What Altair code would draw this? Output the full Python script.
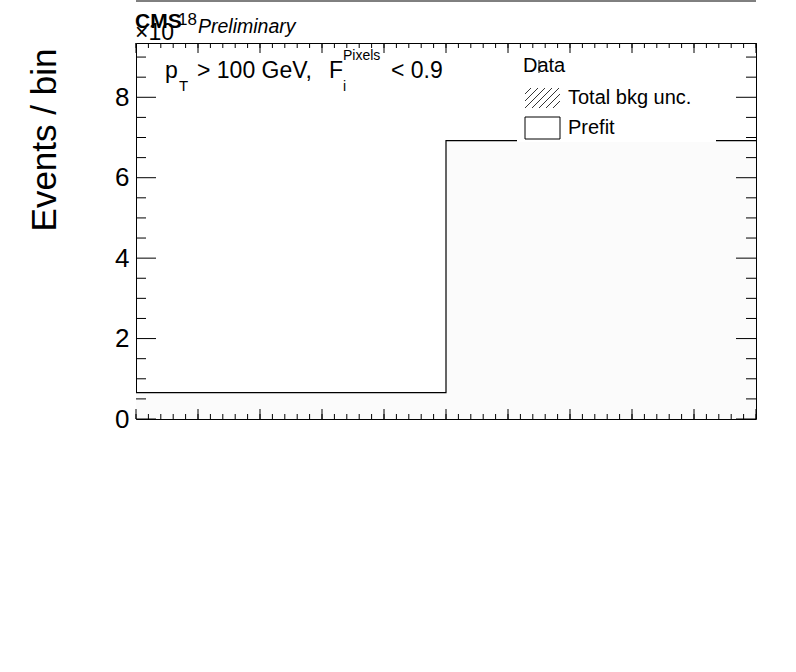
import altair as alt
import pandas as pd

# ---- data ----
bin_lo = [0, 5]
bin_hi = [5, 10]
prefit = [0.654, 6.92]          # x 10^18 events / bin

y_major = [0, 2, 4, 6, 8]
y_minor = [0.5, 1, 1.5, 2.5, 3, 3.5, 4.5, 5, 5.5, 6.5, 7, 7.5, 8.5, 9]
x_major = [0, 1, 2, 3, 4, 5, 6, 7, 8, 9, 10]
x_minor = [i / 5 for i in range(51)]

legend_labels = ["Data", "Total bkg unc.", "Prefit"]

FONT = "Liberation Sans"
W, H = 620, 376
xs = alt.Scale(domain=[0, 10], nice=False, zero=False)
ys = alt.Scale(domain=[0, 9.35], nice=False, zero=False)
yaxis = alt.Axis(values=y_major, title=None, domain=False, ticks=False, tickSize=0, grid=False,
                 labelFont=FONT, labelFontSize=26, labelColor="black", labelPadding=7,
                 labelExpr="datum.value")
one = pd.DataFrame({"a": [0]})

hist_df = pd.DataFrame({"lo": bin_lo, "hi": bin_hi, "v": prefit})
step_df = pd.DataFrame({"x": bin_lo + [bin_hi[-1]], "y": prefit + [prefit[-1]]})

fill = alt.Chart(hist_df).mark_rect(fill="#fbfbfb").encode(
    x=alt.X("lo:Q", scale=xs, axis=None),
    x2="hi:Q",
    y=alt.Y("v:Q", scale=ys, axis=yaxis),
    y2=alt.value(H),
)

line = alt.Chart(step_df).mark_line(interpolate="step-after", color="black", strokeWidth=1.2).encode(
    x=alt.X("x:Q", scale=xs, axis=None),
    y=alt.Y("y:Q", scale=ys, axis=yaxis),
)


def rect(x1, x2, y1, y2, **kw):
    return alt.Chart(one).mark_rect(**kw).encode(
        x=alt.value(x1), x2=alt.value(x2), y=alt.value(y1), y2=alt.value(y2))


def seg(x1, y1, x2, y2, w=1.0):
    return alt.Chart(one).mark_rule(color="black", strokeWidth=w).encode(
        x=alt.value(x1), x2=alt.value(x2), y=alt.value(y1), y2=alt.value(y2))


def txt(s, x, y, size, **kw):
    return alt.Chart(one).mark_text(align="left", baseline="alphabetic", font=FONT,
                                    fontSize=size, color="black", **kw).encode(
        x=alt.value(x), y=alt.value(y), text=alt.value(s))


def xticks(vals, length):
    df = pd.DataFrame({"t": vals})
    b = alt.Chart(df).mark_rule(color="black", strokeWidth=1).encode(
        x=alt.X("t:Q", scale=xs, axis=None), y=alt.value(H), y2=alt.value(H - length))
    t = alt.Chart(df).mark_rule(color="black", strokeWidth=1).encode(
        x=alt.X("t:Q", scale=xs, axis=None), y=alt.value(0), y2=alt.value(length))
    return [b, t]


def yticks(vals, length):
    df = pd.DataFrame({"t": vals})
    l = alt.Chart(df).mark_rule(color="black", strokeWidth=1).encode(
        y=alt.Y("t:Q", scale=ys, axis=yaxis), x=alt.value(0), x2=alt.value(length))
    r = alt.Chart(df).mark_rule(color="black", strokeWidth=1).encode(
        y=alt.Y("t:Q", scale=ys, axis=yaxis), x=alt.value(W), x2=alt.value(W - length))
    return [l, r]


layers = [fill, line]

# legend background
layers.append(rect(381, 580, 11, 99, fill="white"))

layers += xticks(x_minor, 5) + xticks(x_major, 10)
layers += yticks(y_minor, 10) + yticks(y_major, 20)

# legend entries
layers.append(txt(legend_labels[0], 387, 29, 20))
layers.append(seg(403, 17, 403, 30))
bx0, bx1, by0, by1 = 389, 424, 45, 65
for c in [440, 447, 454, 461, 468, 475, 482]:
    xa = max(bx0, c - by1); ya = c - xa
    xb = min(bx1, c - by0); yb = c - xb
    layers.append(seg(xa, ya, xb, yb, 0.8))
layers.append(txt(legend_labels[1], 432, 61, 20))
layers.append(rect(389, 424, 74, 96, fill="white", stroke="black", strokeWidth=1))
layers.append(txt(legend_labels[2], 432, 91, 20))

# selection label
layers.append(txt("p", 29, 35, 23))
layers.append(txt("T", 43, 48, 15))
layers.append(txt("> 100 GeV,", 61, 35, 23))
layers.append(txt("F", 193, 35, 23))
layers.append(txt("Pixels", 207, 17, 14))
layers.append(txt("i", 207, 48, 14))
layers.append(txt("< 0.9", 255, 35, 23))

# header
layers.append(seg(0, -42, W, -42))
layers.append(txt("CMS", -1, -15, 21, fontWeight="bold"))
layers.append(txt("Preliminary", 62, -10, 19.5, fontStyle="italic"))
layers.append(txt("\u00d710", -1, -3, 23))
layers.append(txt("18", 42, -18, 17))

# y title
layers.append(alt.Chart(one).mark_text(align="center", baseline="alphabetic", font=FONT,
                                       fontSize=35, angle=270, color="black").encode(
    x=alt.value(-80), y=alt.value(97), text=alt.value("Events / bin")))

chart = alt.layer(*layers).properties(
    width=W, height=H,
    padding={"left": 136, "top": 43, "right": 40, "bottom": 253},
    autosize=alt.AutoSizeParams(type="none"),
    background="white",
).configure_view(stroke="black", strokeWidth=1)

chart.save("out.html", embed_options={"renderer": "svg", "actions": False})
